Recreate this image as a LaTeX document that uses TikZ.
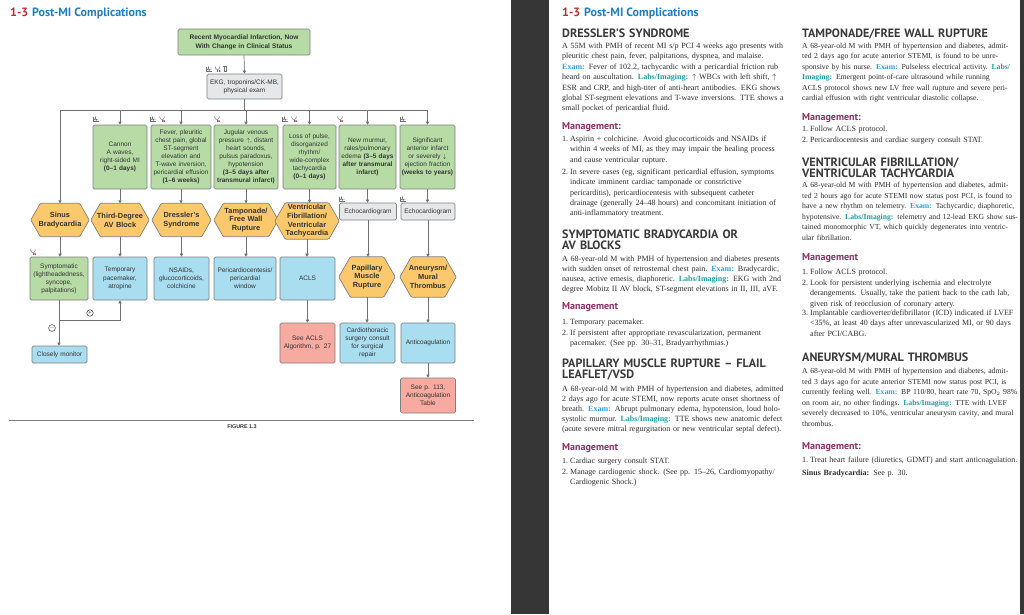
\documentclass[tikz,border=0pt]{standalone}
\usepackage{fontspec}
\setmainfont{Liberation Serif}
\newfontfamily\parafont{Liberation Serif}[WordSpace={0.85,1.3,1.4}]
\newfontfamily\headfont{PT Sans}
\newfontfamily\chartfont{Liberation Sans}
\usepackage{xcolor}
\definecolor{greenfill}{HTML}{B7DBA5}
\definecolor{hexfill}{HTML}{FBC86B}
\definecolor{bluefill}{HTML}{A9DDF0}
\definecolor{pinkfill}{HTML}{F7AAA0}
\definecolor{grayfill}{HTML}{E6E7E9}
\definecolor{boxline}{HTML}{7F7F7F}
\definecolor{arrowgray}{HTML}{707070}
\definecolor{charttext}{HTML}{333333}
\definecolor{titlered}{HTML}{C1272D}
\definecolor{titleblue}{HTML}{1F7EC2}
\definecolor{headgray}{HTML}{3A3A3A}
\definecolor{mgmtpurple}{HTML}{8E2E63}
\definecolor{examblue}{HTML}{2EA3D8}
\definecolor{labsteal}{HTML}{1F9EA6}
\definecolor{bodygray}{HTML}{2E2E2E}
\definecolor{gutter}{HTML}{363636}
\usepackage{tikz}
\usetikzlibrary{arrows.meta,positioning,backgrounds}

\newcommand\fulline[1]{\hbox to\linewidth{#1}}
\newcommand\shortline[1]{\hbox{#1}}
\newcommand\examlbl[1]{{\bfseries\color{examblue}#1}}
\newcommand\labslbl[1]{{\bfseries\color{labsteal}#1}}

\tikzset{
  iconline/.style={draw=arrowgray, line width=0.5pt},
  ekgicon/.pic={
    \draw[iconline] (-3,-2.5) -- (-3,2.5) -- (3,2.5);
    \draw[iconline] (-2.4,0.6) -- (-1.2,0.6) -- (-0.6,-2) -- (0.2,1.8) -- (0.8,0) -- (2.6,0);
  },
  stethicon/.pic={
    \draw[iconline] (-2.5,-2.5) .. controls (-2.5,1.5) and (2.5,1.5) .. (2.5,-2.5);
    \draw[iconline] (0,0.5) -- (0,2.6);
    \fill[red!80!black] (2.1,2) circle (0.9);
  },
  tubeicon/.pic={
    \draw[iconline] (-1,-2.5) -- (-1,2.5) -- (1,2.5) -- (1,-2.5);
    \draw[iconline] (-1.6,-2.8) -- (1.6,-2.8);
  }
}

\begin{document}
\begin{tikzpicture}[x=1pt, y=-1pt,
  flowbox/.style={draw=boxline, line width=0.7pt, rounded corners=1.5pt, font=\chartfont\fontsize{6.5}{8.1}\selectfont, align=center, inner xsep=1pt, inner ysep=1pt, text=charttext},
  greenbox/.style={flowbox, fill=greenfill},
  bluebox/.style={flowbox, fill=bluefill},
  pinkbox/.style={flowbox, fill=pinkfill},
  graybox/.style={flowbox, fill=grayfill},
  hexnode/.style={inner xsep=1pt, inner ysep=0pt, align=center, font=\chartfont\bfseries\fontsize{7.4}{8.7}\selectfont, text=charttext},
  hexline/.style={draw=boxline, line width=0.7pt, fill=hexfill, rounded corners=1pt},
  signnode/.style={circle, draw=charttext, line width=0.5pt, inner sep=0pt, minimum size=6.5pt, font=\chartfont\fontsize{5.5}{5.5}\selectfont, text=charttext},
  arrow/.style={-{Triangle[length=3pt,width=3.2pt]}, line width=0.7pt, color=arrowgray},
  bus/.style={line width=0.7pt, color=arrowgray},
  figrule/.style={line width=1pt, color=boxline},
  figcap/.style={font=\chartfont\bfseries\fontsize{5.4}{6}\selectfont, text=charttext, inner sep=0pt},
  pagetitle/.style={anchor=base west, inner sep=0pt, font=\headfont\bfseries\fontsize{12}{13}\selectfont},
  sechead/.style={anchor=base west, inner sep=0pt, text width=236pt, align=left, font=\headfont\bfseries\fontsize{12.1}{11}\selectfont, text=headgray},
  mgmthead/.style={anchor=base west, inner sep=0pt, font=\headfont\bfseries\fontsize{10}{12}\selectfont, text=mgmtpurple},
  bodypara/.style={anchor=base west, inner sep=0pt, text width=224pt, font=\parafont\fontsize{8}{10.4}\selectfont, text=bodygray},
  rightpara/.style={bodypara, text width=217pt},
  listnum/.style={anchor=base west, inner sep=0pt, font=\fontsize{8}{10.3}\selectfont, text=bodygray},
  listtext/.style={anchor=base west, inner sep=0pt, text width=216pt, font=\fontsize{8}{10.3}\selectfont, text=bodygray}
]
\useasboundingbox (0,0) rectangle (1024,614);
\begin{scope}[on background layer]
  \fill[white] (0,0) rectangle (1024,614);
  \fill[gutter] (511,0) rectangle (549,614);
  \fill[gutter] (1020,0) rectangle (1024,614);
\end{scope}

% left page: flowchart
\node[pagetitle] (titleL) at (10,16) {{\color{titlered}1-3}\hspace{4pt}{\color{titleblue}Post-MI Complications}};

\node[greenbox, font=\chartfont\bfseries\fontsize{6.6}{9}\selectfont, text width=130pt, minimum height=26pt] (recent) at (244,42) {Recent Myocardial Infarction, Now\\With Change in Clinical Status};
\node[graybox, text width=73pt, minimum height=25pt] (ekg) at (244.5,86.5) {EKG, troponins/CK-MB,\\physical exam};

\node[greenbox, text width=52pt, minimum height=64pt] (cannon) at (120,157) {Cannon\\A waves,\\right-sided MI\\\textbf{(0–1 days)}};
\node[greenbox, text width=58pt, minimum height=64pt] (fever) at (181,157) {Fever, pleuritic\\chest pain, global\\ST-segment\\elevation and\\T-wave inversion,\\pericardial effusion\\\textbf{(1–6 weeks)}};
\node[greenbox, text width=62pt, minimum height=64pt] (jugular) at (246,157) {Jugular venous\\pressure $\uparrow$, distant\\heart sounds,\\pulsus paradoxus,\\hypotension\\\textbf{(3–5 days after}\\\textbf{transmural infarct)}};
\node[greenbox, text width=51pt, minimum height=64pt] (pulse) at (309.5,157) {Loss of pulse,\\disorganized\\rhythm/\\wide-complex\\tachycardia\\\textbf{(0–1 days)}};
\node[greenbox, text width=55pt, minimum height=64pt] (murmur) at (367.5,157) {New murmur,\\rales/pulmonary\\edema \textbf{(3–5 days}\\\textbf{after transmural}\\\textbf{infarct)}};
\node[greenbox, text width=53pt, minimum height=64pt] (anterior) at (427.5,157) {Significant\\anterior infarct\\or severely $\downarrow$\\ejection fraction\\\textbf{(weeks to years)}};

\node[hexnode, text width=56pt, minimum height=33pt] (sinus) at (60,220) {Sinus\\Bradycardia};
\node[hexnode, text width=56pt, minimum height=33pt] (avblock) at (120,220) {Third-Degree\\AV Block};
\node[hexnode, text width=57pt, minimum height=33pt] (dressler) at (181.5,220) {Dressler’s\\Syndrome};
\node[hexnode, text width=62pt, minimum height=33pt] (tamponade) at (246,220) {Tamponade/\\Free Wall\\Rupture};
\node[hexnode, text width=62pt, minimum height=36pt] (vfvt) at (307,221) {Ventricular\\Fibrillation/\\Ventricular\\Tachycardia};
\node[graybox, text width=55pt, minimum height=17pt] (echoA) at (368,211.5) {Echocardiogram};
\node[graybox, text width=52pt, minimum height=17pt] (echoB) at (428,211.5) {Echocardiogram};

\node[greenbox, text width=56pt, minimum height=43pt] (symptom) at (59,278.5) {Symptomatic\\(lightheadedness,\\syncope,\\palpitations)};
\node[bluebox, text width=52pt, minimum height=43pt] (pacer) at (120,278.5) {Temporary\\pacemaker,\\atropine};
\node[bluebox, text width=53pt, minimum height=43pt] (nsaid) at (181.5,278.5) {NSAIDs,\\glucocorticoids,\\colchicine};
\node[bluebox, text width=60pt, minimum height=43pt] (pericard) at (245,278.5) {Pericardiocentesis/\\pericardial\\window};
\node[bluebox, text width=53pt, minimum height=43pt] (acls) at (307.5,278.5) {ACLS};
\node[hexnode, text width=54pt, minimum height=40pt] (papillary) at (367,277) {Papillary\\Muscle\\Rupture};
\node[hexnode, text width=54pt, minimum height=40pt] (aneurysm) at (428,277) {Aneurysm/\\Mural\\Thrombus};

\node[bluebox, text width=53pt, minimum height=17pt] (monitor) at (59.5,354.5) {Closely monitor};
\node[pinkbox, text width=53pt, minimum height=40pt] (aclsref) at (307.5,343) {See ACLS\\Algorithm, p. 27};
\node[bluebox, text width=53pt, minimum height=40pt] (surgery) at (367.5,343) {Cardiothoracic\\surgery consult\\for surgical\\repair};
\node[bluebox, text width=52pt, minimum height=40pt] (anticoag) at (428,343) {Anticoagulation};
\node[pinkbox, text width=53pt, minimum height=35pt] (anticoagref) at (428,395.5) {See p. 113,\\Anticoagulation\\Table};

% hexagon outlines behind the diagnosis nodes
\begin{scope}[on background layer]
  \foreach \n/\d in {sinus/9.5,avblock/9.5,dressler/9.5,tamponade/9.5,vfvt/10.4,papillary/11.5,aneurysm/11.5}
    \draw[hexline] (\n.west) -- ([xshift=\d pt]\n.north west) -- ([xshift=-\d pt]\n.north east) -- (\n.east) -- ([xshift=-\d pt]\n.south east) -- ([xshift=\d pt]\n.south west) -- cycle;
\end{scope}

% connectors
\coordinate (busL) at (60,110);
\coordinate (busR) at (427.5,110);
\draw[arrow] (recent.south) -- (ekg.north);
\draw[bus] (ekg.south) -- (ekg.south |- busL);
\draw[bus] (busL) -- (busR);
\draw[arrow] (busL) -- (sinus.north);
\foreach \n in {cannon,fever,jugular,pulse,murmur,anterior}
  \draw[arrow] (\n.north |- busL) -- (\n.north);
\foreach \a/\b in {cannon/avblock,fever/dressler,jugular/tamponade,pulse/vfvt,murmur/echoA,anterior/echoB,sinus/symptom,avblock/pacer,dressler/nsaid,tamponade/pericard,vfvt/acls,echoA/papillary,echoB/aneurysm,acls/aclsref,papillary/surgery,aneurysm/anticoag,anticoag/anticoagref}
  \draw[arrow] (\a.south) -- (\a.south |- \b.north);
\draw[arrow] (symptom.south) -- (symptom.south |- monitor.north);
\coordinate (symJ) at (symptom.south |- 0,320);
\draw[arrow] (symJ) -| (pacer.south);
\node[signnode] (plus) at (90,313) {+};
\node[signnode] (minus) at (52,328) {$-$};

% icons
\pic at (209,69) {ekgicon};
\pic at (217.5,69) {stethicon};
\pic at (225,69) {tubeicon};
\foreach \x in {96,153,285,403} \pic at (\x,119) {ekgicon};
\foreach \x in {162,217,294,340} \pic at (\x,119) {stethicon};
\pic at (342,199) {ekgicon};
\pic at (403,199) {ekgicon};
\pic at (33,252) {stethicon};

\coordinate (figL) at (9,420);
\coordinate (figR) at (474,420);
\draw[figrule] (figL) -- (figR);
\node[figcap] (figlabel) at (242,426.5) {FIGURE 1.3};

% right page: text
\node[pagetitle] (titleR) at (562,16) {{\color{titlered}1-3}\hspace{4pt}{\color{titleblue}Post-MI Complications}};

\node[sechead] (dressH) at (562,37) {DRESSLER’S SYNDROME};
\node[bodypara] (dressP) at (562,48.5) {\vtop{
  \fulline{A 55M with PMH of recent MI s/p PCI 4 weeks ago presents with}
  \fulline{pleuritic chest pain, fever, palpitations, dyspnea, and malaise.}
  \fulline{\examlbl{Exam:} Fever of 102.2, tachycardic with a pericardial friction rub}
  \fulline{heard on auscultation. \labslbl{Labs/Imaging:} $\uparrow$ WBCs with left shift, $\uparrow$}
  \fulline{ESR and CRP, and high-titer of anti-heart antibodies. EKG shows}
  \fulline{global ST-segment elevations and T-wave inversions. TTE shows a}
  \shortline{small pocket of pericardial fluid.}}};
\node[mgmthead] (dressM) at (562,129) {Management:};
\node[listnum] (dressN1) at (562,141.5) {1.};
\node[listtext] (dressL1) at (570,141.5) {\vtop{
  \shortline{Aspirin + colchicine. Avoid glucocorticoids and NSAIDs if}
  \shortline{within 4 weeks of MI, as they may impair the healing process}
  \shortline{and cause ventricular rupture.}}};
\node[listnum] (dressN2) at (562,174.5) {2.};
\node[listtext] (dressL2) at (570,174.5) {\vtop{
  \shortline{In severe cases (eg, significant pericardial effusion, symptoms}
  \shortline{indicate imminent cardiac tamponade or constrictive}
  \shortline{pericarditis), pericardiocentesis with subsequent catheter}
  \shortline{drainage (generally 24–48 hours) and concomitant initiation of}
  \shortline{anti-inflammatory treatment.}}};

\node[sechead] (bradyH) at (562,238) {SYMPTOMATIC BRADYCARDIA OR\\AV BLOCKS};
\node[bodypara, font=\parafont\fontsize{8}{10}\selectfont] (bradyP) at (562,261.5) {\vtop{
  \fulline{A 68-year-old M with PMH of hypertension and diabetes presents}
  \fulline{with sudden onset of retrosternal chest pain. \examlbl{Exam:} Bradycardic,}
  \fulline{nausea, active emesis, diaphoretic. \labslbl{Labs/Imaging:} EKG with 2nd}
  \shortline{degree Mobitz II AV block, ST-segment elevations in II, III, aVF.}}};
\node[mgmthead] (bradyM) at (562,309.5) {Management};
\node[listnum] (bradyN1) at (562,324.5) {1.};
\node[listtext] (bradyL1) at (570,324.5) {Temporary pacemaker.};
\node[listnum] (bradyN2) at (562,335.5) {2.};
\node[listtext] (bradyL2) at (570,335.5) {\vtop{
  \shortline{If persistent after appropriate revascularization, permanent}
  \shortline{pacemaker. (See pp. 30–31, Bradyarrhythmias.)}}};

\node[sechead] (papH) at (562,367) {PAPILLARY MUSCLE RUPTURE – FLAIL\\LEAFLET/VSD};
\node[bodypara, font=\parafont\fontsize{8}{9.9}\selectfont] (papP) at (562,391.5) {\vtop{
  \fulline{A 68-year-old M with PMH of hypertension and diabetes, admitted}
  \fulline{2 days ago for acute STEMI, now reports acute onset shortness of}
  \fulline{breath. \examlbl{Exam:} Abrupt pulmonary edema, hypotension, loud holo-}
  \fulline{systolic murmur. \labslbl{Labs/Imaging:} TTE shows new anatomic defect}
  \fulline{(acute severe mitral regurgitation or new ventricular septal defect).}}};
\node[mgmthead] (papM) at (562,450.5) {Management};
\node[listnum] (papN1) at (562,463.5) {1.};
\node[listtext] (papL1) at (570,463.5) {Cardiac surgery consult STAT.};
\node[listnum] (papN2) at (562,474.5) {2.};
\node[listtext] (papL2) at (570,474.5) {\vtop{
  \shortline{Manage cardiogenic shock. (See pp. 15–26, Cardiomyopathy/}
  \shortline{Cardiogenic Shock.)}}};

\node[sechead] (tampH) at (802,37) {TAMPONADE/FREE WALL RUPTURE};
\node[rightpara, font=\parafont\fontsize{7.7}{10.4}\selectfont] (tampP) at (802,48.5) {\vtop{
  \fulline{A 68-year-old M with PMH of hypertension and diabetes, admit-}
  \fulline{ted 2 days ago for acute anterior STEMI, is found to be unre-}
  \fulline{sponsive by his nurse. \examlbl{Exam:} Pulseless electrical activity. \labslbl{Labs/}}
  \fulline{\labslbl{Imaging:} Emergent point-of-care ultrasound while running}
  \fulline{ACLS protocol shows new LV free wall rupture and severe peri-}
  \shortline{cardial effusion with right ventricular diastolic collapse.}}};
\node[mgmthead] (tampM) at (802,120.5) {Management:};
\node[listnum] (tampN1) at (802,131) {1.};
\node[listtext] (tampL1) at (810,131) {Follow ACLS protocol.};
\node[listnum] (tampN2) at (802,142) {2.};
\node[listtext] (tampL2) at (810,142) {Pericardiocentesis and cardiac surgery consult STAT.};

\node[sechead] (vfH) at (802,166) {VENTRICULAR FIBRILLATION/\\VENTRICULAR TACHYCARDIA};
\node[rightpara, font=\parafont\fontsize{7.7}{10.6}\selectfont] (vfP) at (802,187.5) {\vtop{
  \fulline{A 68-year-old M with PMH of hypertension and diabetes, admit-}
  \fulline{ted 2 hours ago for acute STEMI now status post PCI, is found to}
  \fulline{have a new rhythm on telemetry. \examlbl{Exam:} Tachycardic, diaphoretic,}
  \fulline{hypotensive. \labslbl{Labs/Imaging:} telemetry and 12-lead EKG show sus-}
  \fulline{tained monomorphic VT, which quickly degenerates into ventric-}
  \shortline{ular fibrillation.}}};
\node[mgmthead] (vfM) at (802,260.5) {Management};
\node[listnum] (vfN1) at (802,274.5) {1.};
\node[listtext] (vfL1) at (810,274.5) {Follow ACLS protocol.};
\node[listnum] (vfN2) at (802,285.5) {2.};
\node[listtext] (vfL2) at (810,285.5) {\vtop{
  \shortline{Look for persistent underlying ischemia and electrolyte}
  \shortline{derangements. Usually, take the patient back to the cath lab,}
  \shortline{given risk of reocclusion of coronary artery.}}};
\node[listnum] (vfN3) at (802,315.5) {3.};
\node[listtext] (vfL3) at (810,315.5) {\vtop{
  \shortline{Implantable cardioverter/defibrillator (ICD) indicated if LVEF}
  \shortline{<35\%, at least 40 days after unrevascularized MI, or 90 days}
  \shortline{after PCI/CABG.}}};

\node[sechead] (aneuH) at (802,361) {ANEURYSM/MURAL THROMBUS};
\node[rightpara, font=\parafont\fontsize{7.7}{10.5}\selectfont] (aneuP) at (802,373.5) {\vtop{
  \fulline{A 68-year-old M with PMH of hypertension and diabetes, admit-}
  \fulline{ted 3 days ago for acute anterior STEMI now status post PCI, is}
  \fulline{currently feeling well. \examlbl{Exam:} BP 110/80, heart rate 70, SpO$_2$ 98\%}
  \fulline{on room air, no other findings. \labslbl{Labs/Imaging:} TTE with LVEF}
  \fulline{severely decreased to 10\%, ventricular aneurysm cavity, and mural}
  \shortline{thrombus.}}};
\node[mgmthead] (aneuM) at (802,449.5) {Management:};
\node[listnum] (aneuN1) at (802,462.5) {1.};
\node[listtext] (aneuL1) at (810,462.5) {Treat heart failure (diuretics, GDMT) and start anticoagulation.};
\node[listtext] (sinusref) at (802,475.5) {\textbf{Sinus Bradycardia:} See p. 30.};
\end{tikzpicture}
\end{document}
